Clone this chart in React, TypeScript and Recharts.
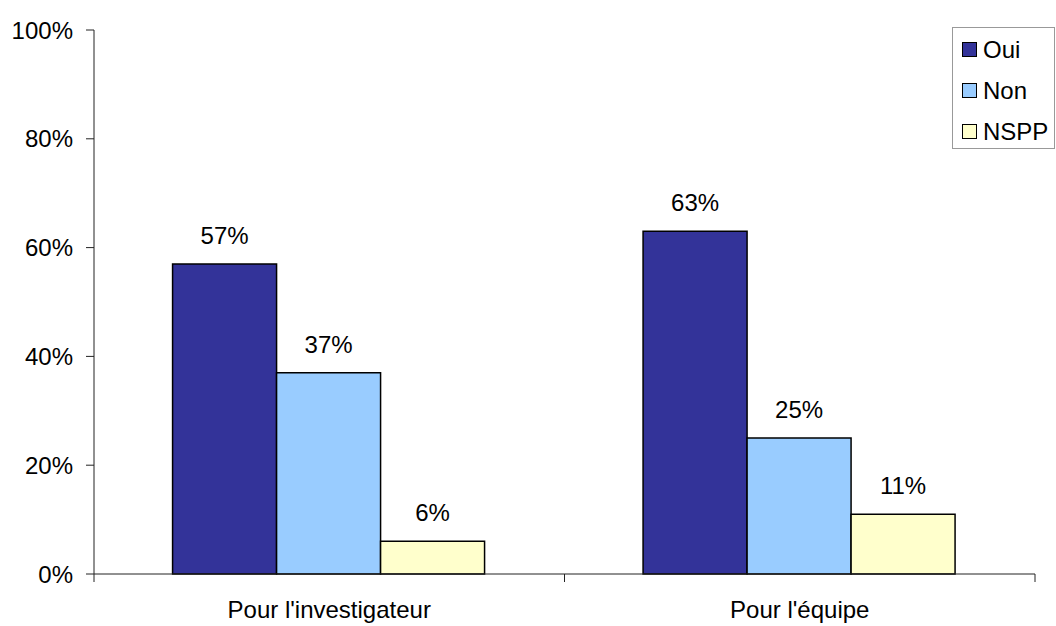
import React from 'react';
import { BarChart, Bar, XAxis, YAxis, LabelList } from 'recharts';

const categories = ["Pour l'investigateur", "Pour l'équipe"];
const oui = [57, 63];
const non = [37, 25];
const nspp = [6, 11];
const yTicks = [0, 20, 40, 60, 80, 100];

const series = [
  { key: 'oui', name: 'Oui', color: '#333399' },
  { key: 'non', name: 'Non', color: '#99CCFF' },
  { key: 'nspp', name: 'NSPP', color: '#FFFFCC' },
];

const data = categories.map((name, i) => ({
  name,
  oui: oui[i],
  non: non[i],
  nspp: nspp[i],
}));

const FONT = '"Liberation Sans", Arial, sans-serif';
const FS = 24;
const AXIS = '#222';

// category label plus the small tick marks at the band boundaries
function CategoryTick(props: any) {
  const { x, y, payload, index } = props;
  const half = payload.offset || 235;
  return (
    <g>
      {index === 0 && <line x1={x - half} y1={y} x2={x - half} y2={y + 8} stroke={AXIS} />}
      <line x1={x + half} y1={y} x2={x + half} y2={y + 8} stroke={AXIS} />
      <text x={x} y={y + 44} textAnchor="middle" fill="#000" fontSize={FS} fontFamily={FONT}>
        {payload.value}
      </text>
    </g>
  );
}

function LegendBox() {
  return (
    <div
      style={{
        position: 'absolute',
        left: 952,
        top: 27,
        width: 103,
        height: 122,
        border: '1px solid #999',
        background: '#fff',
        boxSizing: 'border-box',
        paddingTop: 1,
        fontFamily: FONT,
        fontSize: FS,
        color: '#000',
      }}
    >
      {series.map((s) => (
        <div key={s.key} style={{ display: 'flex', alignItems: 'center', height: 41 }}>
          <span
            style={{
              display: 'inline-block',
              width: 13,
              height: 13,
              marginLeft: 9,
              marginRight: 6,
              background: s.color,
              border: '1.5px solid #000',
            }}
          />
          <span>{s.name}</span>
        </div>
      ))}
    </div>
  );
}

export default function App() {
  return (
    <div style={{ position: 'absolute', left: 0, top: 0, width: 1056, height: 626, background: '#fff' }}>
      <BarChart
        width={1056}
        height={626}
        data={data}
        margin={{ top: 30, right: 21, left: 0, bottom: 0 }}
        barCategoryGap="16.7%"
        barGap={0}
      >
        <XAxis
          dataKey="name"
          height={52}
          stroke={AXIS}
          tickLine={false}
          tickSize={0}
          tickMargin={0}
          tick={<CategoryTick />}
          interval={0}
        />
        <YAxis
          width={94}
          domain={[0, 100]}
          ticks={yTicks}
          tickFormatter={(v) => `${v}%`}
          stroke={AXIS}
          tickSize={8}
          tickMargin={13}
          tick={{ fill: '#000', fontSize: FS, fontFamily: FONT }}
        />
        {series.map((s) => (
          <Bar
            key={s.key}
            dataKey={s.key}
            name={s.name}
            fill={s.color}
            stroke="#000"
            strokeWidth={1.5}
            isAnimationActive={false}
          >
            <LabelList
              dataKey={s.key}
              position="top"
              offset={20}
              formatter={(v: any) => `${v}%`}
              fill="#000"
              fontSize={FS}
              fontFamily={FONT}
            />
          </Bar>
        ))}
      </BarChart>
      <LegendBox />
    </div>
  );
}
